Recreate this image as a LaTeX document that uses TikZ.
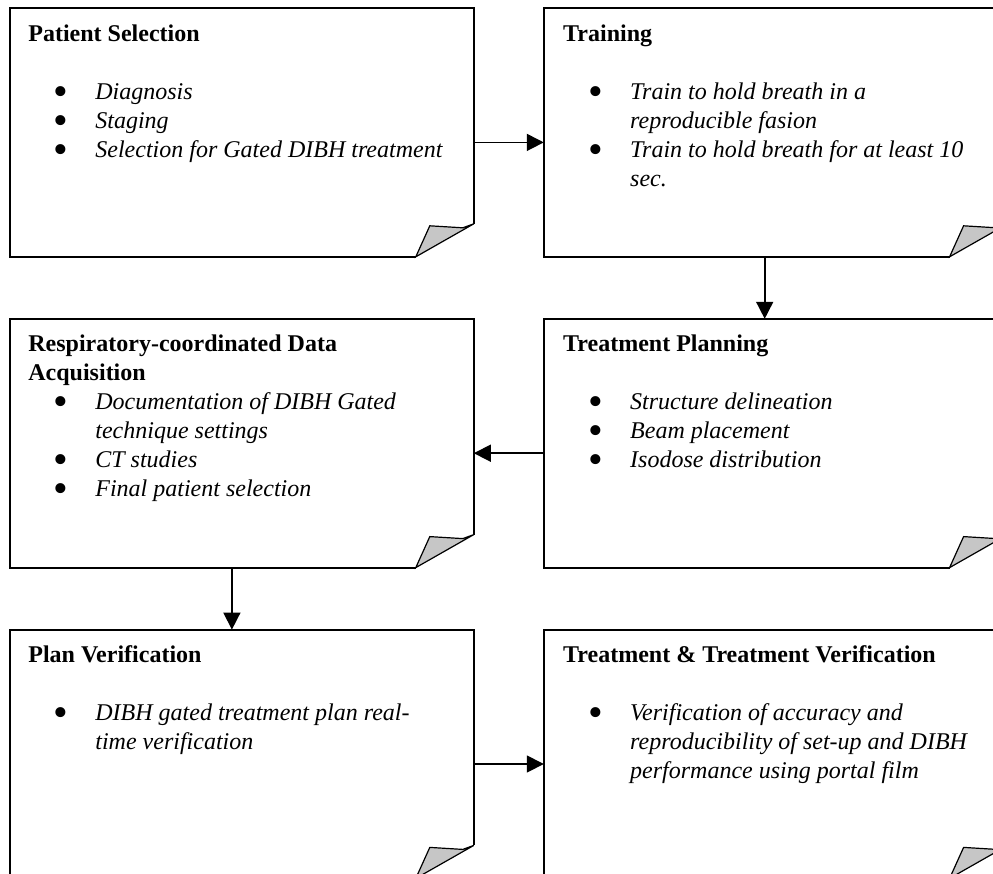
\documentclass[tikz,border=0pt]{standalone}
\usepackage{fontspec}
\setmainfont{Liberation Serif}
\usetikzlibrary{positioning,arrows.meta}

\newcommand{\bitem}{\makebox[33.5pt][l]{\hspace{12.5pt}\smash{\raisebox{-3pt}{\scalebox{1.75}{\textbullet}}}}}
\newcommand{\bcont}{\hspace*{33.5pt}}

\begin{document}
\begin{tikzpicture}[stage/.style={minimum width=231.5pt,
   minimum height=124pt,inner sep=0pt},
  stagetext/.style={font=\fontsize{12}{14.5}\selectfont,
   align=left,inner sep=0pt,anchor=north west},
  flow/.style={line width=0.8pt,-{Triangle[length=8.5pt,width=8.5pt]}},
  node distance=35pt]
 \useasboundingbox (0,0) rectangle (496.5pt,-437pt);
 \clip (0,0) rectangle (496.5pt,-437pt);

 \node[stage,anchor=north west] (ps) at (5pt,-4pt) {};
 \node[stage,right=of ps] (tr) {};
 \node[stage,below=31pt of tr] (tp) {};
 \node[stage,left=of tp] (rda) {};
 \node[stage,below=31pt of rda] (pv) {};
 \node[stage,right=of pv] (ttv) {};

 % outlines with the turned-up corner
 \foreach \b in {ps,tr,tp,rda,pv,ttv}{
   \draw[line width=1pt] ([yshift=16.5pt]\b.south east) -- (\b.north east)
     -- (\b.north west) -- (\b.south west) -- ([xshift=-29pt]\b.south east);
   \draw[line width=0.6pt,fill=gray!45] ([xshift=-29pt]\b.south east)
     -- ([shift={(-22pt,15.5pt)}]\b.south east)
     -- ([shift={(-5.5pt,14.5pt)}]\b.south east)
     -- ([yshift=16.5pt]\b.south east) -- cycle;
 }

 \node[stagetext] (ps-txt) at ([shift={(9pt,-8pt)}]ps.north west)
   {\textbf{Patient Selection}\\[14.5pt]
    \bitem\textit{Diagnosis}\\
    \bitem\textit{Staging}\\
    \bitem\textit{Selection for Gated DIBH treatment}};
 \node[stagetext] (tr-txt) at ([shift={(9.5pt,-8pt)}]tr.north west)
   {\textbf{Training}\\[14.5pt]
    \bitem\textit{Train to hold breath in a}\\
    \bcont\textit{reproducible fasion}\\
    \bitem\textit{Train to hold breath for at least 10}\\
    \bcont\textit{sec.}};
 \node[stagetext] (tp-txt) at ([shift={(9.5pt,-8pt)}]tp.north west)
   {\textbf{Treatment Planning}\\[14.5pt]
    \bitem\textit{Structure delineation}\\
    \bitem\textit{Beam placement}\\
    \bitem\textit{Isodose distribution}};
 \node[stagetext] (rda-txt) at ([shift={(9pt,-8pt)}]rda.north west)
   {\textbf{Respiratory-coordinated Data}\\
    \textbf{Acquisition}\\
    \bitem\textit{Documentation of DIBH Gated}\\
    \bcont\textit{technique settings}\\
    \bitem\textit{CT studies}\\
    \bitem\textit{Final patient selection}};
 \node[stagetext] (pv-txt) at ([shift={(9pt,-8pt)}]pv.north west)
   {\textbf{Plan Verification}\\[14.5pt]
    \bitem\textit{DIBH gated treatment plan real-}\\
    \bcont\textit{time verification}};
 \node[stagetext] (ttv-txt) at ([shift={(9.5pt,-8pt)}]ttv.north west)
   {\textbf{Treatment \& Treatment Verification}\\[14.5pt]
    \bitem\textit{Verification of accuracy and}\\
    \bcont\textit{reproducibility of set-up and DIBH}\\
    \bcont\textit{performance using portal film}};

 % connectors
 \draw[flow] ([yshift=-5pt]ps.east) -- ([yshift=-5pt]tr.west);
 \draw[flow] ([xshift=-5.5pt]tr.south) -- ([xshift=-5.5pt]tp.north);
 \draw[flow] ([yshift=-5pt]tp.west) -- ([yshift=-5pt]rda.east);
 \draw[flow] ([xshift=-5pt]rda.south) -- ([xshift=-5pt]pv.north);
 \draw[flow] ([yshift=-5pt]pv.east) -- ([yshift=-5pt]ttv.west);

\end{tikzpicture}
\end{document}
